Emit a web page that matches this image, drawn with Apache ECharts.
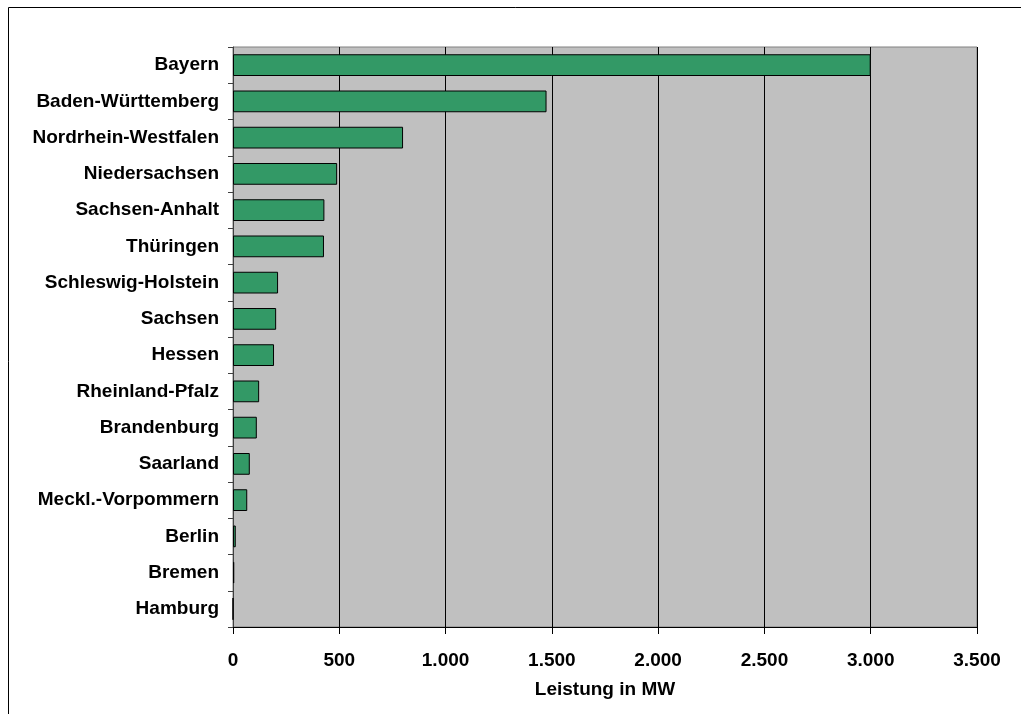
<!DOCTYPE html>
<html>
<head>
<meta charset="utf-8">
<script src="https://cdn.jsdelivr.net/npm/echarts@6/dist/echarts.min.js"></script>
<style>
html,body{margin:0;padding:0;background:#fff;}
#c{width:1021px;height:714px;}
</style>
</head>
<body>
<div id="c"></div>
<script>
const categories = ["Bayern","Baden-Württemberg","Nordrhein-Westfalen","Niedersachsen","Sachsen-Anhalt","Thüringen","Schleswig-Holstein","Sachsen","Hessen","Rheinland-Pfalz","Brandenburg","Saarland","Meckl.-Vorpommern","Berlin","Bremen","Hamburg"];
const values = [3000,1475,800,490,430,428,212,203,193,123,112,79,67,13,6,0];
const xTicks = [0,500,1000,1500,2000,2500,3000,3500];
const axisTitle = "Leistung in MW";

const font = '"Liberation Sans", Arial, sans-serif';
const chart = echarts.init(document.getElementById('c'), null, {renderer:'canvas'});
function fmt(v){ return String(v).replace(/\B(?=(\d{3})+(?!\d))/g,'.'); }
chart.setOption({
  animation:false,
  backgroundColor:'#ffffff',
  graphic:[{type:'rect',shape:{x:8.5,y:7.5,width:1100,height:800},style:{fill:'none',stroke:'#000',lineWidth:1},silent:true}],
  grid:{left:233,right:44,top:47,bottom:87,show:true,backgroundColor:'#C0C0C0',borderColor:'#808080',borderWidth:1},
  xAxis:{type:'value',min:xTicks[0],max:xTicks[xTicks.length-1],interval:500,
    axisLine:{show:true,lineStyle:{color:'#000',width:1}},
    axisTick:{show:true,length:7,lineStyle:{color:'#000'}},
    splitLine:{show:true,lineStyle:{color:'#000',width:1}},
    axisLabel:{formatter:fmt,fontFamily:font,fontSize:19,fontWeight:'bold',color:'#000',margin:24},
    name:axisTitle,nameLocation:'middle',nameGap:53,
    nameTextStyle:{fontFamily:font,fontSize:19,fontWeight:'bold',color:'#000'}},
  yAxis:{type:'category',data:categories,inverse:true,
    axisLine:{show:true,lineStyle:{color:'#404040',width:1}},
    axisTick:{show:true,length:5,alignWithLabel:false,lineStyle:{color:'#404040'}},
    splitLine:{show:false},
    axisLabel:{fontFamily:font,fontSize:19,fontWeight:'bold',color:'#000',margin:14}},
  series:[{type:'bar',data:values,barCategoryGap:'40%',
    itemStyle:{color:'#339966',borderColor:'#000',borderWidth:1}}]
});
</script>
</body>
</html>
